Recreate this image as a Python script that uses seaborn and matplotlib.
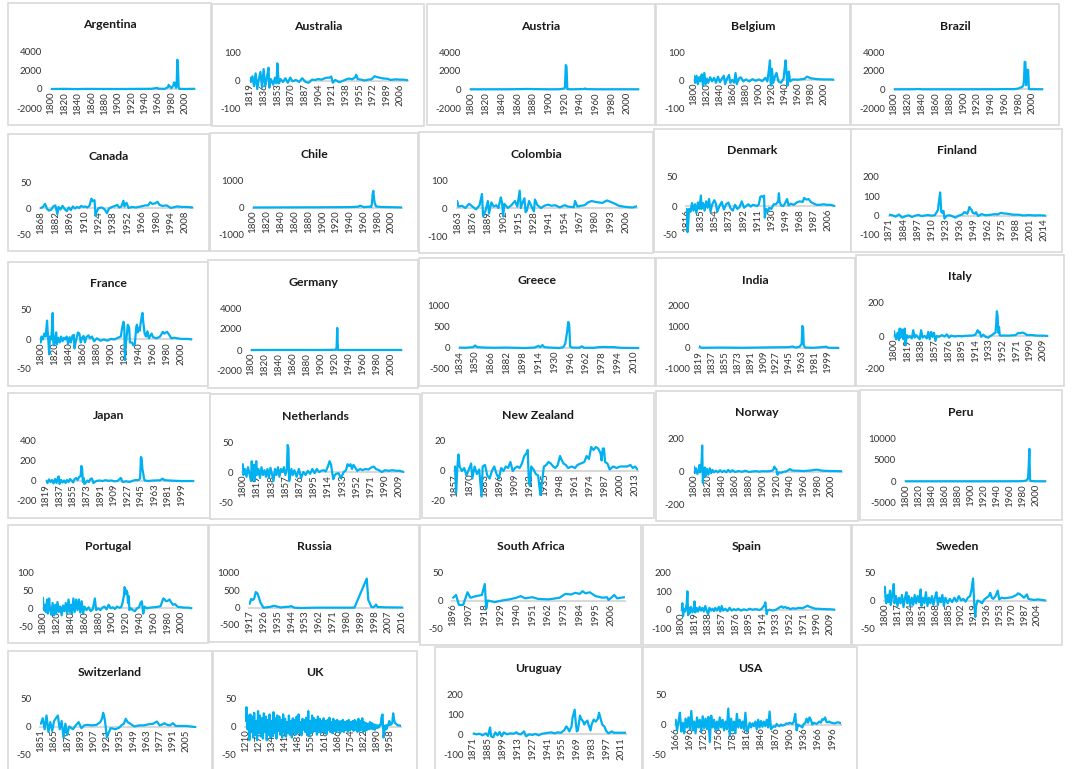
import matplotlib
matplotlib.use("Agg")
import matplotlib.pyplot as plt
from matplotlib.patches import Rectangle
import seaborn as sns

# Annual inflation (%) per country, (year, value)
argentina = [(1800, 0), (1820, 15), (1840, -10), (1850, 10), (1900, 0), (1950, 20), (1959, 110), (1960, 30),
             (1970, 15), (1975, 180), (1976, 440), (1980, 100), (1983, 340), (1984, 690), (1985, 670),
             (1987, 130), (1988, 390), (1989, 3080), (1990, 2310), (1991, 170), (1992, 25), (2000, -1), (2015, 25)]
australia = [(1819, 10), (1820, -5), (1822, 15), (1824, -20), (1826, 25), (1828, -30), (1830, 5), (1832, 30),
             (1834, -25), (1836, 40), (1838, -20), (1840, 10), (1842, 45), (1843, -25), (1845, 5), (1848, -15),
             (1850, 10), (1852, -10), (1853, 60), (1854, 20), (1855, -10), (1857, 5), (1860, -5), (1863, 8),
             (1866, -8), (1869, 10), (1872, -3), (1876, 2), (1880, -5), (1884, 8), (1888, -5), (1892, -8),
             (1896, 3), (1900, 2), (1904, 5), (1908, 3), (1912, 8), (1915, 10), (1918, 10), (1920, 14),
             (1922, -8), (1925, 2), (1930, -6), (1933, -3), (1938, 3), (1942, 7), (1946, 4), (1950, 12),
             (1951, 20), (1953, 5), (1957, 3), (1962, 0), (1966, 3), (1970, 4), (1974, 15), (1977, 12),
             (1980, 10), (1985, 7), (1990, 6), (1994, 2), (2000, 4), (2006, 3), (2010, 3), (2015, 1)]
austria = [(1800, 0), (1850, 5), (1872, 40), (1900, 0), (1914, 10), (1918, 60), (1920, 100), (1921, 200),
           (1922, 2600), (1923, 2400), (1924, 20), (1930, 0), (1946, 40), (1947, 100), (1948, 20),
           (1960, 5), (2015, 2)]
belgium = [(1800, 15), (1802, -10), (1804, 15), (1806, -15), (1808, 10), (1810, -5), (1812, 20), (1814, -20),
           (1816, 25), (1818, -15), (1820, 5), (1822, -10), (1825, 10), (1828, -5), (1831, 8), (1834, -10),
           (1837, 12), (1840, -8), (1843, 5), (1846, 15), (1848, -15), (1851, 5), (1854, 18), (1856, -10),
           (1859, 0), (1862, -10), (1864, 25), (1866, -15), (1869, 5), (1872, 10), (1876, -5), (1880, 2),
           (1885, -5), (1890, 3), (1895, -3), (1900, 2), (1905, -4), (1910, 8), (1913, -5), (1915, 30),
           (1917, 70), (1918, -10), (1919, -20), (1920, 40), (1922, -10), (1925, 15), (1927, 25), (1930, -5),
           (1934, -10), (1938, 5), (1940, 50), (1941, 70), (1943, 10), (1944, -20), (1946, 30), (1948, -5),
           (1952, 2), (1960, 1), (1970, 4), (1974, 12), (1980, 6), (1990, 3), (2000, 2), (2010, 2), (2015, 1)]
brazil = [(1800, 0), (1830, 10), (1835, 40), (1840, 5), (1900, 5), (1950, 10), (1960, 30), (1970, 20),
          (1975, 30), (1980, 90), (1983, 200), (1985, 230), (1987, 400), (1988, 980), (1989, 2950),
          (1990, 2900), (1991, 440), (1992, 1000), (1993, 2100), (1994, 2080), (1995, 70), (1996, 15), (2015, 8)]
canada = [(1868, 0), (1870, 2), (1872, 8), (1874, -2), (1876, -5), (1878, -3), (1880, 3), (1882, 5),
          (1884, -12), (1885, 2), (1887, -3), (1889, 4), (1891, -2), (1893, -6), (1895, 1), (1897, -4),
          (1899, 3), (1901, -1), (1903, 2), (1905, 0), (1907, 4), (1909, 2), (1911, 3), (1913, 1), (1915, 4),
          (1917, 18), (1918, 13), (1920, 15), (1921, -15), (1922, -7), (1924, 0), (1927, 1), (1930, -3),
          (1932, -10), (1934, -1), (1937, 2), (1940, 4), (1942, 6), (1944, 1), (1946, 3), (1948, 14),
          (1949, 3), (1951, 10), (1953, 0), (1956, 2), (1960, 1), (1965, 3), (1969, 5), (1972, 5), (1974, 11),
          (1976, 8), (1979, 9), (1981, 12), (1983, 6), (1986, 4), (1990, 5), (1994, 0), (2000, 3), (2005, 2),
          (2010, 2), (2015, 1)]
chile = [(1800, 0), (1850, 5), (1900, 8), (1940, 15), (1952, 30), (1955, 70), (1960, 15), (1965, 25),
         (1970, 30), (1971, 20), (1972, 160), (1973, 510), (1974, 630), (1975, 340), (1976, 170), (1978, 40),
         (1985, 20), (2015, 3)]
colombia = [(1863, 25), (1864, 5), (1867, 8), (1870, 0), (1873, 15), (1876, 5), (1879, -5), (1882, 10),
            (1884, 50), (1885, -30), (1887, -10), (1889, 25), (1890, -20), (1892, 20), (1894, 5), (1896, 10),
            (1898, 0), (1900, 38), (1901, 20), (1902, -30), (1903, 15), (1906, 0), (1909, 10), (1912, 25),
            (1914, 5), (1916, 62), (1917, 0), (1918, 15), (1920, 35), (1921, -15), (1922, -10), (1924, 25),
            (1926, 5), (1928, -12), (1929, 30), (1931, 10), (1934, 0), (1937, 8), (1940, 12), (1943, 8),
            (1946, 10), (1950, 2), (1954, 10), (1957, 5), (1962, 3), (1963, 25), (1965, 5), (1968, 8),
            (1971, 10), (1974, 20), (1977, 25), (1980, 22), (1983, 20), (1986, 18), (1990, 27), (1993, 22),
            (1997, 15), (2000, 8), (2004, 5), (2008, 3), (2012, 2), (2015, 6)]
denmark = [(1816, -5), (1817, -45), (1818, -30), (1819, -5), (1821, -10), (1823, 5), (1825, -8), (1827, 3),
           (1829, -12), (1831, 6), (1833, -5), (1835, 18), (1836, -5), (1838, 5), (1840, -8), (1842, 8),
           (1844, -3), (1846, 12), (1848, -10), (1850, 2), (1853, 10), (1855, 5), (1857, -10), (1860, 0),
           (1863, 7), (1866, -6), (1869, 3), (1872, 6), (1875, -4), (1878, -8), (1881, 2), (1884, -5),
           (1887, -2), (1890, 8), (1893, -3), (1896, 0), (1899, 3), (1902, -1), (1905, 2), (1908, 1),
           (1911, 0), (1913, 3), (1915, 16), (1917, 17), (1919, 15), (1920, 18), (1921, -20), (1922, -12),
           (1923, -5), (1925, -10), (1927, -3), (1930, -5), (1933, 3), (1936, 3), (1939, 8), (1940, 22),
           (1941, 7), (1943, 1), (1946, 0), (1948, 4), (1951, 12), (1953, 1), (1956, 4), (1960, 2), (1964, 6),
           (1968, 8), (1972, 7), (1974, 14), (1977, 11), (1980, 12), (1983, 7), (1987, 4), (1991, 2),
           (1995, 2), (2000, 3), (2005, 2), (2010, 2), (2015, 0)]
finland = [(1871, 5), (1874, 2), (1877, -5), (1880, 6), (1883, -10), (1886, -3), (1889, 2), (1892, -7),
           (1895, 0), (1898, 4), (1901, -2), (1904, 1), (1907, 3), (1910, 0), (1913, 2), (1915, 20),
           (1916, 30), (1917, 80), (1918, 120), (1919, 20), (1920, 15), (1921, 25), (1922, -15), (1924, 0),
           (1927, 2), (1930, -5), (1932, -10), (1935, 0), (1938, 5), (1940, 17), (1941, 18), (1942, 14),
           (1943, 10), (1944, 25), (1945, 45), (1946, 35), (1947, 30), (1948, 15), (1950, 10), (1951, 18),
           (1953, -2), (1956, 8), (1960, 2), (1965, 5), (1968, 8), (1971, 6), (1974, 15), (1976, 12),
           (1980, 10), (1985, 5), (1990, 5), (1995, 1), (2000, 3), (2005, 1), (2010, 2), (2015, 0)]
france = [(1800, -5), (1801, 5), (1803, 0), (1805, 10), (1807, 5), (1809, 32), (1810, 10), (1811, -5),
          (1812, -25), (1813, 5), (1815, 0), (1816, 20), (1817, 45), (1818, -5), (1819, -10), (1821, 5),
          (1822, 12), (1823, -8), (1825, 3), (1827, -5), (1829, 5), (1831, -3), (1833, 3), (1835, 0),
          (1837, 5), (1839, -8), (1841, 4), (1843, -5), (1845, 6), (1847, 8), (1848, -15), (1850, -3),
          (1853, 12), (1855, 10), (1857, -5), (1859, 3), (1861, 6), (1863, -5), (1865, 4), (1868, 7),
          (1870, 2), (1873, 5), (1876, -3), (1880, 2), (1885, -2), (1890, 0), (1895, -2), (1900, 1),
          (1905, 0), (1910, 3), (1914, 5), (1916, 20), (1917, 25), (1918, 30), (1919, 20), (1920, -35),
          (1921, -10), (1922, 0), (1924, 25), (1926, 20), (1927, -5), (1930, -5), (1932, -10), (1934, -8),
          (1936, 20), (1937, 25), (1938, 12), (1940, 20), (1941, 15), (1942, 25), (1944, 40), (1945, 45),
          (1946, 30), (1947, 20), (1948, 10), (1950, 5), (1952, 14), (1954, 2), (1958, 10), (1960, 4),
          (1965, 2), (1970, 5), (1974, 13), (1976, 10), (1980, 13), (1983, 8), (1986, 2), (1990, 3),
          (2000, 1), (2010, 1), (2015, 0)]
germany = [(1800, 0), (1850, 5), (1900, 0), (1914, 10), (1918, 20), (1920, 30), (1921, 20), (1922, 150),
           (1923, 2100), (1924, 0), (1930, -5), (1950, 2), (2015, 2)]
greece = [(1834, 10), (1840, 5), (1848, 20), (1850, 60), (1852, 20), (1860, 10), (1870, 5), (1880, 10),
          (1890, 5), (1900, 0), (1910, 10), (1914, 50), (1916, 20), (1918, 70), (1920, 20), (1925, 10),
          (1930, 5), (1935, 0), (1939, 20), (1941, 100), (1942, 250), (1943, 400), (1944, 620), (1945, 560),
          (1946, 30), (1948, 10), (1955, 5), (1958, 40), (1960, 5), (1970, 5), (1975, 20), (1980, 25),
          (1985, 20), (1990, 20), (1995, 8), (2000, 3), (2015, 0)]
india = [(1819, 80), (1822, 10), (1850, 20), (1880, 10), (1900, 20), (1920, 30), (1945, 40), (1950, 70),
         (1955, 20), (1960, 60), (1962, 150), (1963, 200), (1964, 1050), (1965, 1000), (1966, 120),
         (1968, 20), (1980, 10), (1998, 60), (2000, 10), (2015, 5)]
italy = [(1800, 30), (1801, 10), (1803, -20), (1805, 20), (1807, -25), (1808, 45), (1809, -10), (1811, 40),
         (1813, -20), (1815, 45), (1816, -55), (1818, 5), (1820, -10), (1822, 0), (1825, -15), (1827, 35),
         (1829, -10), (1831, 5), (1833, -5), (1836, -20), (1838, 35), (1840, -10), (1843, 0), (1846, -15),
         (1848, 25), (1850, -20), (1852, 25), (1854, -5), (1856, 20), (1858, -30), (1860, 0), (1863, -5),
         (1867, 5), (1871, -3), (1874, 10), (1877, -10), (1880, 2), (1885, -3), (1890, 0), (1895, -2),
         (1900, 1), (1905, 2), (1910, 3), (1914, 8), (1916, 25), (1917, 35), (1918, 30), (1919, 20),
         (1920, 25), (1922, -5), (1925, 8), (1928, -5), (1932, -10), (1935, 0), (1938, 8), (1940, 15),
         (1942, 20), (1943, 70), (1944, 150), (1945, 120), (1946, 20), (1947, 55), (1948, 5), (1950, 2),
         (1955, 3), (1960, 2), (1965, 4), (1970, 5), (1974, 19), (1976, 17), (1980, 21), (1983, 15),
         (1986, 6), (1990, 6), (1995, 5), (2000, 2), (2010, 2), (2015, 0)]
japan = [(1819, 5), (1821, -20), (1823, 15), (1825, -10), (1827, 10), (1829, -25), (1831, 20), (1833, -20),
         (1835, 40), (1836, 45), (1837, -30), (1839, 10), (1841, -15), (1843, 5), (1845, -20), (1847, 10),
         (1849, -10), (1851, 20), (1853, 5), (1855, -15), (1857, 20), (1859, 30), (1861, 10), (1863, 40),
         (1865, 50), (1866, 150), (1867, 120), (1868, -10), (1869, 30), (1870, -30), (1872, -15), (1874, 5),
         (1876, -10), (1878, 20), (1880, 25), (1882, -20), (1884, -10), (1886, 0), (1890, 5), (1894, 0),
         (1898, 8), (1902, 2), (1906, 5), (1910, -3), (1914, 0), (1917, 20), (1918, 30), (1919, 25),
         (1920, -5), (1922, -10), (1925, -3), (1930, -10), (1934, 2), (1938, 10), (1941, 8), (1943, 15),
         (1944, 30), (1945, 240), (1946, 230), (1947, 120), (1948, 80), (1949, 30), (1950, 5), (1955, 0),
         (1960, 4), (1965, 6), (1970, 6), (1974, 23), (1976, 9), (1980, 6), (1990, 2), (2000, -1), (2015, 0)]
netherlands = [(1800, 13), (1801, -5), (1803, 5), (1805, -8), (1807, 8), (1809, -3), (1811, -15), (1812, 18),
               (1813, -10), (1815, 12), (1816, -15), (1818, 18), (1819, -5), (1821, 5), (1823, -10), (1825, 8),
               (1827, -5), (1829, 3), (1831, -8), (1833, 5), (1835, -10), (1837, 7), (1839, -3), (1841, -15),
               (1843, 5), (1845, -5), (1847, 8), (1849, -8), (1851, 5), (1853, 0), (1855, 8), (1857, -5),
               (1859, 5), (1860, 45), (1861, 40), (1862, -15), (1863, -10), (1865, 5), (1867, -5), (1869, 3),
               (1872, -8), (1875, 5), (1878, -10), (1881, 0), (1884, -5), (1887, 2), (1890, -3), (1893, 5),
               (1896, -2), (1899, 5), (1902, 0), (1905, 2), (1908, 3), (1911, 1), (1914, 10), (1916, 18),
               (1918, 12), (1920, -5), (1921, -12), (1923, -5), (1925, -3), (1928, -2), (1931, -10), (1933, -5),
               (1935, 0), (1938, 3), (1940, 13), (1942, 10), (1944, 13), (1946, 5), (1948, 12), (1950, 8),
               (1953, 2), (1957, 5), (1960, 3), (1964, 5), (1968, 4), (1971, 7), (1975, 9), (1978, 5),
               (1982, 3), (1986, 0), (1990, 3), (1995, 2), (2000, 3), (2005, 2), (2010, 2), (2015, 0)]
new_zealand = [(1857, 3), (1858, -15), (1859, 2), (1860, 11), (1861, 3), (1863, 0), (1865, 2), (1867, -3),
               (1869, 1), (1871, 5), (1872, -5), (1874, 3), (1876, -2), (1878, 1), (1880, -17), (1881, 3),
               (1883, 4), (1885, -3), (1887, -5), (1889, 0), (1891, 3), (1893, -2), (1895, -5), (1897, 2),
               (1899, 0), (1901, 3), (1903, 2), (1905, 6), (1907, 0), (1909, 2), (1911, 3), (1913, 2),
               (1915, 5), (1917, 10), (1919, 12), (1920, 14), (1921, -8), (1922, -10), (1923, 3), (1925, 1),
               (1927, -2), (1929, -3), (1931, -16), (1932, -10), (1934, 3), (1936, 4), (1938, 6), (1940, 5),
               (1942, 3), (1944, 2), (1946, 4), (1948, 10), (1949, 8), (1951, 5), (1953, 4), (1955, 2),
               (1958, 3), (1961, 2), (1963, 4), (1966, 5), (1969, 6), (1971, 10), (1973, 8), (1975, 16),
               (1977, 14), (1979, 16), (1981, 15), (1983, 12), (1984, 7), (1985, 15), (1986, 15), (1987, 6),
               (1989, 5), (1991, 1), (1994, 3), (1997, 2), (2000, 3), (2003, 3), (2006, 3), (2009, 4),
               (2011, 2), (2013, 3), (2015, 1)]
norway = [(1800, 30), (1801, -10), (1803, 20), (1805, -15), (1807, 10), (1808, 40), (1809, -5), (1810, 30),
          (1811, 50), (1812, 160), (1813, -70), (1814, 20), (1815, -30), (1816, 25), (1817, -25), (1819, 15),
          (1821, -20), (1823, 20), (1825, -10), (1827, 10), (1829, -5), (1832, 5), (1835, -5), (1838, 8),
          (1841, -3), (1844, 5), (1847, -5), (1850, 10), (1853, -3), (1856, 8), (1860, -3), (1865, 3),
          (1870, -2), (1875, 5), (1880, -3), (1885, 0), (1890, 2), (1895, -1), (1900, 2), (1905, 1),
          (1910, 2), (1914, 5), (1916, 15), (1917, 30), (1918, 20), (1920, 15), (1921, -15), (1922, -20),
          (1924, -5), (1927, -8), (1930, -3), (1935, 2), (1940, 15), (1942, 8), (1945, 5), (1950, 5),
          (1955, 4), (1960, 3), (1970, 6), (1975, 10), (1980, 11), (1985, 6), (1990, 4), (2000, 3), (2015, 2)]
peru = [(1800, 0), (1850, 5), (1900, 0), (1950, 10), (1975, 25), (1980, 60), (1985, 160), (1988, 670),
        (1989, 3400), (1990, 7500), (1991, 400), (1992, 70), (2000, 4), (2015, 3)]
portugal = [(1800, 30), (1801, -5), (1803, 10), (1804, -10), (1806, 25), (1807, -15), (1809, 28), (1810, 0),
            (1812, -18), (1814, 15), (1816, -20), (1818, 10), (1819, -15), (1821, 18), (1823, -10), (1825, 5),
            (1827, -20), (1829, 8), (1831, -8), (1833, 15), (1835, -15), (1837, 25), (1839, -10), (1841, 10),
            (1842, -15), (1844, 28), (1846, -10), (1848, 25), (1850, -5), (1852, 25), (1854, -12), (1856, 20),
            (1858, -15), (1860, 5), (1863, -5), (1866, 3), (1869, -8), (1872, -3), (1875, 28), (1877, -5),
            (1880, 0), (1883, -5), (1886, 2), (1889, 5), (1892, -3), (1895, 10), (1898, 0), (1901, 3),
            (1904, -2), (1907, 5), (1910, 2), (1913, 3), (1915, 15), (1916, 25), (1917, 35), (1918, 60),
            (1919, 55), (1920, 40), (1921, 50), (1922, 45), (1923, 15), (1924, 35), (1925, -5), (1927, 0),
            (1930, -5), (1933, -8), (1936, 0), (1939, 3), (1941, 15), (1943, 20), (1945, -15), (1947, 5),
            (1950, 0), (1955, 2), (1960, 3), (1965, 4), (1970, 6), (1974, 28), (1976, 25), (1978, 20),
            (1981, 22), (1983, 25), (1985, 18), (1988, 10), (1991, 12), (1995, 4), (2000, 3), (2005, 2),
            (2010, 2), (2015, 0)]
russia = [(1917, 110), (1918, 250), (1919, 220), (1920, 260), (1921, 450), (1922, 420), (1923, 300),
          (1924, 150), (1926, 0), (1928, 10), (1930, 20), (1933, 55), (1935, 30), (1937, 5), (1940, 20),
          (1943, 30), (1944, 45), (1946, 0), (1950, -10), (1960, 0), (1970, 0), (1985, 0), (1993, 840),
          (1994, 220), (1995, 130), (1996, 20), (1997, 15), (1998, 30), (1999, 90), (2000, 20), (2005, 10),
          (2010, 7), (2016, 5)]
south_africa = [(1896, 5), (1898, 10), (1900, -8), (1903, -8), (1906, 15), (1908, 5), (1912, 8), (1916, 10),
                (1918, 30), (1919, -15), (1920, 0), (1925, -3), (1930, 0), (1935, 2), (1940, 5), (1943, 8),
                (1946, 4), (1951, 6), (1955, 3), (1962, 2), (1965, 3), (1970, 5), (1974, 12), (1978, 11),
                (1981, 14), (1984, 12), (1986, 17), (1988, 13), (1991, 15), (1995, 8), (2000, 5), (2003, 6),
                (2004, 1), (2006, 5), (2008, 10), (2010, 4), (2015, 6)]
spain = [(1800, 0), (1801, 10), (1802, 35), (1803, -35), (1804, 5), (1806, -10), (1808, 30), (1809, 100),
         (1810, -30), (1811, 10), (1812, -20), (1814, 15), (1816, -15), (1818, 5), (1819, 45), (1820, -15),
         (1822, 10), (1824, -10), (1826, 15), (1828, -5), (1830, 10), (1832, -10), (1834, 20), (1836, -5),
         (1838, -25), (1840, 10), (1842, -5), (1844, 5), (1846, -8), (1848, 10), (1850, -5), (1853, 15),
         (1855, -10), (1857, 20), (1859, -5), (1862, 5), (1865, -8), (1868, 10), (1871, -5), (1874, 3),
         (1877, -3), (1880, 5), (1884, -5), (1888, 2), (1892, -3), (1896, 5), (1900, 0), (1905, 3),
         (1910, -2), (1913, 5), (1915, 15), (1917, 25), (1918, 40), (1919, 5), (1920, -25), (1921, -5),
         (1924, 0), (1928, -5), (1932, -2), (1935, 5), (1937, 10), (1939, 15), (1941, 18), (1943, 10),
         (1946, 15), (1948, 8), (1950, 10), (1953, 3), (1957, 8), (1960, 5), (1965, 10), (1970, 8),
         (1974, 15), (1977, 22), (1980, 15), (1984, 10), (1988, 5), (1992, 5), (2000, 3), (2010, 2), (2015, 0)]
sweden = [(1800, 25), (1801, 5), (1802, -5), (1804, 10), (1805, -3), (1807, 18), (1808, -8), (1810, 10),
          (1812, 30), (1813, -5), (1815, 8), (1817, -10), (1819, 5), (1821, -5), (1823, 10), (1825, -12),
          (1827, 5), (1829, 15), (1830, -5), (1832, 8), (1834, -10), (1836, 5), (1838, -8), (1840, 10),
          (1842, -5), (1844, 8), (1846, -3), (1848, 20), (1849, -10), (1851, 5), (1853, -5), (1855, 15),
          (1857, -10), (1859, 5), (1861, -5), (1863, 8), (1865, -8), (1867, 5), (1869, 15), (1871, -8),
          (1873, 5), (1875, -3), (1877, 10), (1879, -10), (1881, 5), (1884, -5), (1887, 3), (1890, -3),
          (1893, 5), (1896, -2), (1899, 8), (1902, 0), (1905, 3), (1908, -2), (1911, 5), (1914, 8),
          (1916, 20), (1918, 40), (1919, 10), (1920, -15), (1921, -30), (1922, -10), (1924, 0), (1927, -2),
          (1930, -5), (1933, 2), (1936, 5), (1939, 8), (1941, 14), (1943, 5), (1945, 3), (1948, 8),
          (1951, 18), (1953, 2), (1956, 5), (1960, 4), (1965, 5), (1970, 6), (1973, 8), (1976, 10),
          (1978, 13), (1980, 12), (1983, 9), (1986, 5), (1990, 11), (1992, 3), (1995, 2), (2000, 1),
          (2005, 2), (2010, 1), (2015, 0)]
switzerland = [(1851, 5), (1853, 15), (1855, -5), (1857, 20), (1859, -10), (1861, 8), (1863, -8), (1865, 10),
               (1867, 15), (1869, 20), (1871, -5), (1873, 10), (1875, -20), (1877, 5), (1879, -15), (1881, 0),
               (1885, -5), (1888, 2), (1891, 8), (1894, -3), (1897, 2), (1900, 3), (1905, 2), (1910, 3),
               (1914, 8), (1916, 15), (1917, 25), (1918, 20), (1919, 10), (1920, -5), (1921, -20), (1922, -15),
               (1925, -3), (1930, -5), (1934, -2), (1937, 3), (1939, 5), (1941, 14), (1943, 8), (1946, 5),
               (1950, 0), (1955, 2), (1960, 2), (1965, 4), (1970, 5), (1974, 9), (1977, 2), (1980, 4),
               (1982, 6), (1985, 3), (1988, 2), (1991, 6), (1994, 1), (2000, 1), (2005, 1), (2010, 0), (2015, -1)]
uruguay = [(1871, 5), (1874, 0), (1877, 3), (1880, -5), (1883, 5), (1885, -8), (1887, 35), (1888, -10),
           (1890, -15), (1892, 10), (1894, -5), (1896, 12), (1898, -10), (1900, 10), (1903, 0), (1906, 5),
           (1909, 3), (1912, 10), (1914, 2), (1916, 0), (1919, 15), (1921, -10), (1924, 0), (1927, -3),
           (1930, 2), (1933, -5), (1936, 3), (1939, 5), (1942, 8), (1945, 10), (1948, 5), (1951, 10),
           (1954, 8), (1957, 20), (1959, 40), (1960, 35), (1962, 15), (1964, 40), (1965, 85), (1967, 125),
           (1968, 60), (1969, 15), (1970, 20), (1972, 95), (1973, 80), (1975, 65), (1976, 50), (1977, 60),
           (1979, 70), (1980, 50), (1982, 20), (1983, 50), (1985, 75), (1987, 65), (1989, 80), (1990, 110),
           (1991, 90), (1993, 50), (1995, 40), (1997, 15), (1999, 5), (2002, 15), (2004, 8), (2008, 8),
           (2012, 8), (2015, 8)]

# UK every 5 years from 1210, USA every 3 years from 1666
uk_start, uk_step = 1210, 5
uk_vals = [10, 35, -5, 20, -25, 22, -10, 18, -20, 25,
           -15, 10, -25, 28, -12, 20, -18, 15, -22, 24,
           -10, 18, -25, 12, -15, 22, -20, 10, -18, 26,
           -12, 15, -22, 20, -8, 18, -15, 12, -20, 22,
           -10, 14, -18, 8, -12, 20, -15, 10, -20, 15,
           -8, 12, -15, 18, -10, 22, -12, 8, -16, 14,
           -6, 12, -10, 16, -14, 28, -18, 10, -12, 20,
           -10, 15, -8, 12, -15, 18, -10, 14, -12, 10,
           -8, 15, -12, 10, -14, 12, -6, 16, -10, 8,
           -12, 14, -8, 10, -10, 12, -6, 9, -12, 10,
           -8, 12, -10, 8, -6, 10, -9, 12, -7, 8,
           -5, 10, -8, 12, -6, 9, -10, 14, -8, 10,
           -6, 15, -10, 8, -8, 6, -6, 5, -5, 8,
           -4, 6, -5, 4, -6, 3, -3, 2, -2, 3,
           2, 18, 22, -20, -8, 2, -5, 3, 2, 10,
           3, 4, 6, 24, 12, 6, 5, 3, 2, 2,
           2, 1]
usa_start, usa_step = 1666, 3
usa_vals = [8, -10, 5, 20, -12, 3, -15, 10, -5, 12,
            -8, 23, -10, 5, -15, 12, -5, 8, -12, 14,
            -6, 10, -8, 13, -30, 15, -5, 8, -10, 5,
            -8, 12, -5, 8, -10, 5, -8, 27, -20, 10,
            -10, 5, -15, 18, -5,
            8, -6, 5, -8, 20, -12, -8, 3, -5, 2,
            -3, 5, -8, 8, -5, 6, -4, 5, -3, 8,
            -5, 22, -8, -5, -3, -4, 1, -2, -3, 0,
            -2, -1, 0, 2, 1, 3, 2, 1, 5, 18,
            -10, 0, -2, -3, -5, 1, 2, 10, 3, 12,
            8, 0, 3, 2, 1, 3, 5, 3, 9, 8,
            12, 4, 4, 5, 3, 3, 2, 2, 3, 4,
            3, 2]
uk = [(uk_start + uk_step * i, v) for i, v in enumerate(uk_vals)]
usa = [(usa_start + usa_step * i, v) for i, v in enumerate(usa_vals)]

# name, series, y ticks, x label step, panel box in pixels (x0, y0, x1, y1)
panels = [
    ("Argentina", argentina, [-2000, 0, 2000, 4000], 20, (8, 3, 211, 125)),
    ("Australia", australia, [-100, 0, 100], 17, (212, 4, 424, 126)),
    ("Austria", austria, [-2000, 0, 2000, 4000], 20, (427, 4, 655, 125)),
    ("Belgium", belgium, [-100, 0, 100], 20, (656, 4, 850, 125)),
    ("Brazil", brazil, [-2000, 0, 2000, 4000], 20, (851, 4, 1059, 125)),
    ("Canada", canada, [-50, 0, 50], 14, (8, 134, 209, 251)),
    ("Chile", chile, [-1000, 0, 1000], 20, (210, 133, 418, 251)),
    ("Colombia", colombia, [-100, 0, 100], 13, (419, 132, 653, 253)),
    ("Denmark", denmark, [-50, 0, 50], 19, (654, 129, 851, 252)),
    ("Finland", finland, [-100, 0, 100, 200], 13, (851, 129, 1062, 252)),
    ("France", france, [-50, 0, 50], 20, (8, 262, 208, 386)),
    ("Germany", germany, [-2000, 0, 2000, 4000], 20, (208, 260, 418, 388)),
    ("Greece", greece, [-500, 0, 500, 1000], 16, (419, 258, 655, 386)),
    ("India", india, [-1000, 0, 1000, 2000], 18, (656, 258, 855, 386)),
    ("Italy", italy, [-200, 0, 200], 19, (856, 255, 1064, 386)),
    ("Japan", japan, [-200, 0, 200, 400], 18, (8, 393, 210, 518)),
    ("Netherlands", netherlands, [-50, 0, 50], 19, (210, 394, 420, 519)),
    ("New Zealand", new_zealand, [-20, 0, 20], 13, (422, 393, 654, 518)),
    ("Norway", norway, [-200, 0, 200], 20, (656, 391, 858, 521)),
    ("Peru", peru, [-5000, 0, 5000, 10000], 20, (860, 390, 1062, 520)),
    ("Portugal", portugal, [-50, 0, 50, 100], 20, (8, 525, 208, 643)),
    ("Russia", russia, [-500, 0, 500, 1000], 9, (209, 525, 419, 642)),
    ("South Africa", south_africa, [-50, 0, 50], 11, (420, 525, 641, 645)),
    ("Spain", spain, [-100, 0, 100, 200], 19, (643, 525, 851, 645)),
    ("Sweden", sweden, [-50, 0, 50], 17, (852, 525, 1062, 645)),
    ("Switzerland", switzerland, [-50, 0, 50], 14, (8, 651, 212, 771)),
    ("UK", uk, [-50, 0, 50], 68, (213, 651, 417, 771)),
    ("Uruguay", uruguay, [-100, 0, 100, 200], 14, (435, 647, 642, 771)),
    ("USA", usa, [-50, 0, 50], 30, (643, 647, 857, 771)),
]

sns.set_theme(style="white")
plt.rcParams["font.family"] = ["Lato", "DejaVu Sans"]
plt.rcParams["axes.unicode_minus"] = False

W, H = 1078, 769
fig = plt.figure(figsize=(W / 100, H / 100), dpi=100)
fig.patch.set_facecolor("white")

line_color = "#00B0F0"
text_color = "#333333"

for name, series, yt, step, (x0, y0, x1, y1) in panels:
    years = [p[0] for p in series]
    vals = [p[1] for p in series]

    # panel frame
    fig.add_artist(Rectangle((x0 / W, 1 - y1 / H), (x1 - x0) / W, (y1 - y0) / H,
                             transform=fig.transFigure, facecolor="white",
                             edgecolor="#D9D9D9", lw=1.2, zorder=-1))

    # plot area sits right of the y labels
    labw = max(5.2 * sum(c.isdigit() for c in str(t)) + 3 * (t < 0) for t in yt)
    left = x0 + 19 + labw
    right = x1 - 16
    top = y0 + 48
    bottom = y1 - 17
    ax = fig.add_axes([left / W, 1 - bottom / H, (right - left) / W, (bottom - top) / H])
    ax.patch.set_alpha(0)

    sns.lineplot(x=years, y=vals, ax=ax, color=line_color, lw=1.6,
                 estimator=None, sort=False, zorder=3)

    ax.set_ylim(yt[0], yt[-1])
    ax.set_yticks(yt)
    ax.set_yticklabels([str(t) for t in yt])
    ax.set_xlim(years[0] - 0.5, years[-1] + 0.5)
    xt = list(range(years[0], years[-1] + 1, step))
    ax.set_xticks(xt)
    ax.set_xticklabels([str(t) for t in xt])
    ax.tick_params(axis="x", rotation=90, length=0, pad=2, labelsize=7, colors=text_color)
    ax.tick_params(axis="y", length=0, pad=6.5, labelsize=7, colors=text_color)
    ax.set_xlabel("")
    ax.set_ylabel("")

    for s in ["top", "right", "left"]:
        ax.spines[s].set_visible(False)
    ax.spines["bottom"].set_position(("data", 0))
    ax.spines["bottom"].set_color("#D9D9D9")
    ax.spines["bottom"].set_linewidth(1.5)
    ax.spines["bottom"].set_zorder(1)

    fig.text((x0 + x1) / 2 / W, 1 - (y0 + 22) / H, name, ha="center", va="center",
             fontsize=8.8, fontweight="bold", color="#1A1A1A")

fig.savefig("out.png", dpi=100)
